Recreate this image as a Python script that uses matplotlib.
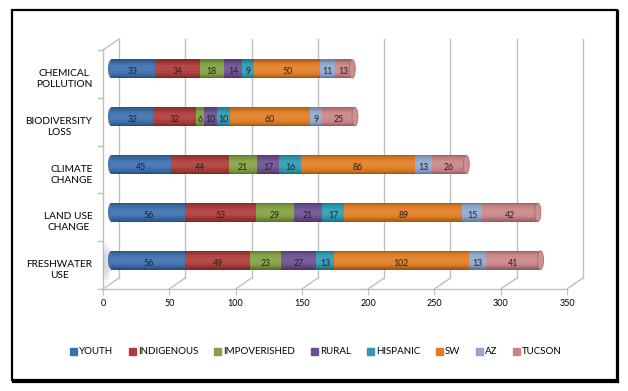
import matplotlib
matplotlib.use("Agg")
import matplotlib.pyplot as plt
from matplotlib.patches import Ellipse, Rectangle
from matplotlib.transforms import offset_copy, ScaledTranslation
from matplotlib.lines import Line2D
import matplotlib.colors as mcolors
import numpy as np

plt.rcParams["font.family"] = ["Lato", "DejaVu Sans"]

categories = ["FRESHWATER\nUSE", "LAND USE\nCHANGE", "CLIMATE\nCHANGE",
              "BIODIVERSITY\nLOSS", "CHEMICAL\nPOLLUTION"]
series = ["YOUTH", "INDIGENOUS", "IMPOVERISHED", "RURAL", "HISPANIC", "SW", "AZ", "TUCSON"]
youth = [56, 56, 45, 32, 33]
indigenous = [49, 53, 44, 32, 34]
impoverished = [23, 29, 21, 6, 18]
rural = [27, 21, 17, 10, 14]
hispanic = [13, 17, 16, 10, 9]
sw = [102, 89, 86, 60, 50]
az = [13, 15, 13, 9, 11]
tucson = [41, 42, 26, 25, 13]
values = [youth, indigenous, impoverished, rural, hispanic, sw, az, tucson]
colors = ["#3C6FAD", "#AC3B39", "#82A041", "#6B5090", "#2F9AB2", "#E07C24", "#8EA8CF", "#C98584"]
xticks = [0, 50, 100, 150, 200, 250, 300, 350]

W, H = 628, 391
fig = plt.figure(figsize=(W / 100, H / 100), dpi=100)
ax = fig.add_axes([103 / W, 102 / H, 464 / W, 239 / H])
ax.set_xlim(0, 350)
ax.set_ylim(-0.5, 4.5)
for s in ax.spines.values():
    s.set_visible(False)

GRID = "#BFBFBF"
# back-wall offset (pixels) converted to data units
DX = 16 * 350 / 464
DY = 11 * 5 / 239

# back wall verticals + floor diagonals
for x in xticks:
    ax.add_line(Line2D([x + DX, x + DX], [-0.5 + DY, 4.5 + DY], color=GRID, lw=1, clip_on=False, zorder=0))
    ax.add_line(Line2D([x, x + DX], [-0.5, -0.5 + DY], color=GRID, lw=1, clip_on=False, zorder=0))
# front floor line and left wall
ax.add_line(Line2D([0, 350], [-0.5, -0.5], color=GRID, lw=1, clip_on=False, zorder=0))
ax.add_line(Line2D([0, 0], [-0.5, 4.5], color=GRID, lw=1, clip_on=False, zorder=0))
ax.add_line(Line2D([0, DX], [4.5, 4.5 + DY], color=GRID, lw=1, clip_on=False, zorder=0))

ax.set_xticks(xticks)
ax.set_xticklabels([str(x) for x in xticks], fontsize=6.5)
ax.tick_params(axis="x", length=4, color=GRID, pad=3)
ax.set_yticks(range(len(categories)))
ax.set_yticklabels(categories, fontsize=7.3)
ax.tick_params(axis="y", length=0, pad=7.5)
down = ScaledTranslation(0, -3 / 100, fig.dpi_scale_trans)
for lab in ax.get_yticklabels():
    lab.set_multialignment("center")
    lab.set_linespacing(1.3)
    lab.set_transform(lab.get_transform() + down)
for yb in np.arange(-0.5, 5, 1.0):
    ax.add_line(Line2D([-4, 0], [yb, yb], color=GRID, lw=1, clip_on=False, zorder=0))

# shadow blob at the left wall near the lowest bar
for k, a in enumerate([0.05, 0.06, 0.08, 0.1]):
    ax.add_patch(Ellipse((2.5, 0.05), 8 - 1.5 * k, 0.9 - 0.15 * k, color="gray", alpha=a, lw=0, zorder=1))

# cylinders, drawn at mid depth
bar_tr = offset_copy(ax.transData, fig=fig, x=8, y=5, units="dots")
lab_tr = offset_copy(ax.transData, fig=fig, x=8, y=2, units="dots")
yy = np.arange(len(categories))
bh = 0.4
nstrip = 16


def shade(c, s):
    rgb = np.array(mcolors.to_rgb(c))
    f = 0.62 + 0.45 * np.sin(np.pi * s) ** 0.7 + 0.06 * s
    if f < 1:
        return rgb * f
    return rgb + (1 - rgb) * (f - 1) * 0.9


left = np.zeros(len(categories))
for vals, col in zip(values, colors):
    v = np.array(vals, dtype=float)
    for i in range(nstrip):
        s = (i + 0.5) / nstrip
        ax.barh(yy - bh / 2 + (i + 0.5) * bh / nstrip, v, left=left, height=bh / nstrip * 1.05,
                color=shade(col, s), lw=0, transform=bar_tr, zorder=3)
    for yi, vi, li in zip(yy, v, left):
        ax.text(li + vi / 2, yi, f"{int(vi)}", ha="center", va="center", fontsize=6.3,
                color="#222222", transform=lab_tr, zorder=6)
    left += v

cap_w = 6 * 350 / 464
for yi, tot in zip(yy, left):
    ax.add_patch(Ellipse((0, yi), cap_w, bh * 0.97, color=shade(colors[0], 0.35), lw=0,
                         transform=bar_tr, zorder=2))
    ax.add_patch(Ellipse((tot, yi), cap_w, bh * 0.97, color=shade(colors[-1], 0.55), lw=0.6,
                         ec=shade(colors[-1], 0.1), transform=bar_tr, zorder=5))

handles = [Rectangle((0, 0), 1, 1, color=c) for c in colors]
fig.legend(handles, series, loc="center", bbox_to_anchor=(316 / W, 1 - 352 / H), ncol=8,
           frameon=False, fontsize=7, handlelength=0.75, handleheight=0.75, handletextpad=0.2,
           columnspacing=1.6, borderaxespad=0)

# chart border with shadow
fig.add_artist(Rectangle((12 / W, 1 - 380 / H), 605 / W, 370 / H, transform=fig.transFigure,
                         fill=False, ec="black", lw=1.6))
fig.add_artist(Line2D([618 / W, 618 / W], [1 - 382 / H, 1 - 11 / H], transform=fig.transFigure,
                      color="black", lw=1.6))
fig.add_artist(Line2D([13 / W, 618 / W], [1 - 382 / H, 1 - 382 / H], transform=fig.transFigure,
                      color="black", lw=1.6))

fig.savefig("out.png", dpi=100)
